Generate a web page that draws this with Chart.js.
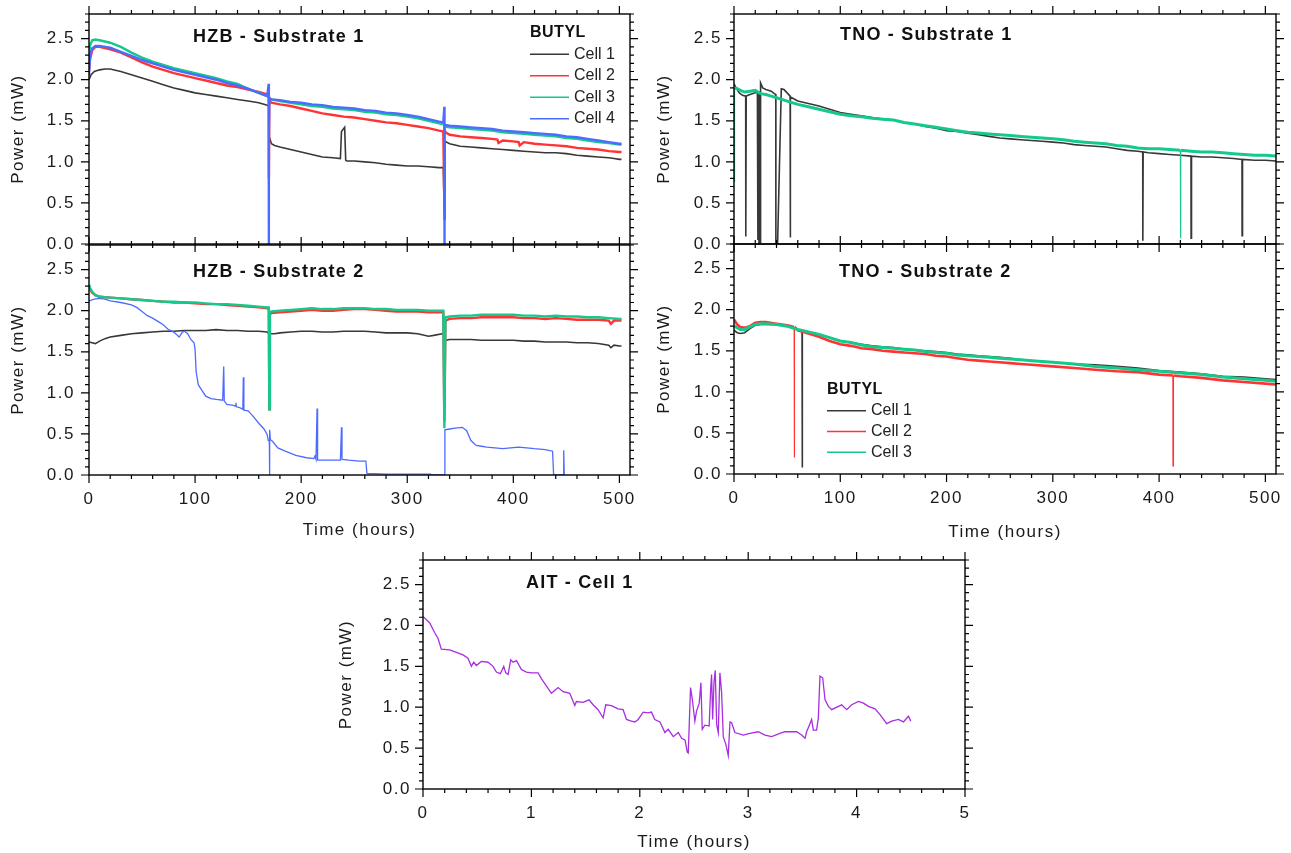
<!DOCTYPE html>
<html>
<head>
<meta charset="utf-8">
<script src="https://cdn.jsdelivr.net/npm/chart.js@4.4.1/dist/chart.umd.min.js"></script>
<style>
  body { margin: 0; background: #fff; }
  #fig { position: relative; width: 1291px; height: 853px; background: #fff; }
  #fig canvas { position: absolute; }
</style>
</head>
<body>
<div id="fig">
  <canvas id="hzb1" width="660" height="260" style="left:0;top:0"></canvas>
  <canvas id="hzb2" width="660" height="320" style="left:0;top:230px"></canvas>
  <canvas id="tno1" width="641" height="260" style="left:650px;top:0"></canvas>
  <canvas id="tno2" width="641" height="320" style="left:650px;top:230px"></canvas>
  <canvas id="ait" width="661" height="313" style="left:330px;top:540px"></canvas>
</div>
<script>
// HZB - Substrate 1
const hzb1Cell1Time = [0, 2, 5, 10, 15, 20, 30, 40, 50, 60, 70, 80, 90, 100, 110, 120, 130, 140, 150, 160, 168, 169.5, 170, 172, 175, 180, 190, 200, 210, 220, 230, 237, 238, 241, 242, 243, 250, 260, 270, 280, 290, 300, 310, 320, 330, 334, 335, 335.5, 340, 350, 360, 370, 380, 390, 400, 410, 420, 430, 440, 450, 460, 470, 480, 490, 495, 500, 502];
const hzb1Cell1 = [2.00, 2.06, 2.10, 2.12, 2.13, 2.13, 2.10, 2.06, 2.02, 1.98, 1.94, 1.90, 1.87, 1.84, 1.82, 1.80, 1.78, 1.76, 1.74, 1.72, 1.69, 1.68, 1.30, 1.22, 1.20, 1.18, 1.15, 1.12, 1.09, 1.06, 1.05, 1.04, 1.37, 1.42, 1.02, 1.01, 1.01, 1.00, 0.99, 0.97, 0.96, 0.95, 0.95, 0.94, 0.93, 0.93, 0.30, 1.25, 1.22, 1.19, 1.18, 1.17, 1.16, 1.15, 1.14, 1.13, 1.12, 1.11, 1.11, 1.10, 1.08, 1.07, 1.06, 1.05, 1.04, 1.03, 1.03];
const hzb1Cell2Time = [0, 1, 3, 6, 10, 20, 30, 40, 50, 60, 70, 80, 90, 100, 110, 120, 130, 140, 150, 160, 168, 169.5, 169.6, 170, 172, 180, 190, 200, 210, 220, 230, 240, 250, 260, 270, 280, 290, 300, 310, 320, 330, 334, 335, 335.1, 336, 340, 350, 360, 370, 380, 385, 386, 390, 400, 405, 406, 410, 420, 430, 440, 450, 460, 470, 480, 490, 500, 502];
const hzb1Cell2 = [2.12, 2.25, 2.36, 2.40, 2.40, 2.37, 2.33, 2.27, 2.21, 2.16, 2.12, 2.08, 2.05, 2.02, 1.99, 1.96, 1.93, 1.91, 1.88, 1.85, 1.82, 1.82, 0.80, 1.75, 1.72, 1.70, 1.68, 1.65, 1.62, 1.59, 1.57, 1.55, 1.54, 1.52, 1.50, 1.48, 1.47, 1.45, 1.43, 1.41, 1.38, 1.37, 0.47, 1.40, 1.36, 1.33, 1.31, 1.30, 1.29, 1.28, 1.27, 1.23, 1.26, 1.25, 1.24, 1.20, 1.24, 1.22, 1.21, 1.20, 1.19, 1.17, 1.16, 1.15, 1.13, 1.12, 1.12];
const hzb1Cell3Time = [0, 1, 3, 6, 10, 20, 30, 40, 50, 60, 70, 80, 90, 100, 110, 120, 130, 140, 150, 160, 168, 170, 172, 180, 190, 200, 210, 220, 230, 240, 250, 260, 270, 280, 290, 300, 310, 320, 330, 334, 336, 340, 350, 360, 370, 380, 390, 400, 410, 420, 430, 440, 450, 460, 470, 480, 490, 500, 502];
const hzb1Cell3 = [2.30, 2.42, 2.48, 2.49, 2.48, 2.45, 2.40, 2.33, 2.27, 2.22, 2.18, 2.14, 2.11, 2.08, 2.05, 2.02, 1.98, 1.95, 1.89, 1.84, 1.80, 1.78, 1.76, 1.74, 1.72, 1.70, 1.68, 1.67, 1.65, 1.64, 1.63, 1.61, 1.60, 1.58, 1.57, 1.55, 1.53, 1.50, 1.47, 1.46, 1.43, 1.42, 1.41, 1.40, 1.39, 1.38, 1.36, 1.35, 1.34, 1.33, 1.32, 1.31, 1.29, 1.28, 1.26, 1.24, 1.23, 1.21, 1.21];
const hzb1Cell4Time = [0, 1, 3, 6, 10, 20, 30, 40, 50, 60, 70, 80, 90, 100, 110, 120, 130, 140, 150, 160, 168, 169.4, 169.5, 169.6, 170, 172, 180, 190, 200, 210, 220, 230, 240, 250, 260, 270, 280, 290, 300, 310, 320, 330, 334, 335, 335.1, 335.2, 336, 340, 350, 360, 370, 380, 390, 400, 410, 420, 430, 440, 450, 460, 470, 480, 490, 500, 502];
const hzb1Cell4 = [2.05, 2.30, 2.38, 2.41, 2.41, 2.39, 2.34, 2.29, 2.24, 2.20, 2.16, 2.12, 2.09, 2.06, 2.03, 2.00, 1.96, 1.93, 1.89, 1.84, 1.80, 1.95, 0.00, 1.30, 1.77, 1.76, 1.75, 1.73, 1.72, 1.70, 1.69, 1.67, 1.66, 1.65, 1.63, 1.62, 1.60, 1.59, 1.57, 1.55, 1.52, 1.49, 1.48, 1.67, 0.00, 1.46, 1.45, 1.44, 1.43, 1.42, 1.41, 1.40, 1.38, 1.37, 1.36, 1.35, 1.34, 1.33, 1.31, 1.30, 1.28, 1.26, 1.24, 1.22, 1.22];

// HZB - Substrate 2
const hzb2Cell1Time = [0, 3, 6, 10, 15, 20, 30, 40, 50, 60, 70, 80, 90, 100, 110, 120, 130, 140, 150, 160, 168, 170, 175, 180, 190, 200, 210, 220, 230, 240, 250, 260, 270, 280, 290, 300, 310, 320, 325, 333, 335, 336, 340, 350, 360, 370, 380, 390, 400, 410, 420, 430, 440, 450, 460, 470, 480, 490, 492, 495, 500, 502];
const hzb2Cell1 = [1.62, 1.61, 1.60, 1.63, 1.66, 1.68, 1.70, 1.72, 1.73, 1.74, 1.75, 1.75, 1.76, 1.76, 1.76, 1.77, 1.76, 1.76, 1.75, 1.75, 1.74, 1.72, 1.72, 1.73, 1.74, 1.75, 1.75, 1.74, 1.74, 1.75, 1.75, 1.75, 1.74, 1.73, 1.73, 1.73, 1.72, 1.69, 1.70, 1.72, 1.72, 1.64, 1.65, 1.65, 1.65, 1.64, 1.64, 1.64, 1.64, 1.63, 1.63, 1.62, 1.62, 1.62, 1.61, 1.61, 1.60, 1.58, 1.55, 1.58, 1.57, 1.57];
const hzb2Cell2Time = [0, 1, 3, 6, 10, 20, 30, 40, 50, 60, 70, 80, 90, 100, 110, 120, 130, 140, 150, 160, 168, 169.5, 170, 170.5, 172, 180, 190, 200, 210, 220, 230, 240, 250, 260, 270, 280, 290, 300, 310, 320, 330, 334, 335, 336, 340, 350, 360, 370, 380, 390, 400, 410, 420, 430, 440, 450, 460, 470, 480, 490, 492, 495, 500, 502];
const hzb2Cell2 = [2.30, 2.26, 2.22, 2.19, 2.17, 2.16, 2.15, 2.14, 2.13, 2.12, 2.11, 2.10, 2.10, 2.09, 2.08, 2.08, 2.07, 2.06, 2.05, 2.04, 2.03, 2.03, 0.80, 1.96, 1.97, 1.98, 1.99, 2.00, 2.01, 2.00, 2.00, 2.01, 2.02, 2.02, 2.01, 2.00, 1.99, 1.99, 1.99, 1.98, 1.98, 1.98, 0.65, 1.88, 1.90, 1.91, 1.91, 1.92, 1.92, 1.92, 1.92, 1.91, 1.91, 1.90, 1.91, 1.90, 1.89, 1.89, 1.89, 1.88, 1.84, 1.88, 1.88, 1.88];
const hzb2Cell3Time = [0, 1, 3, 6, 10, 20, 30, 40, 50, 60, 70, 80, 90, 100, 110, 120, 130, 140, 150, 160, 168, 169.5, 170, 170.5, 172, 180, 190, 200, 210, 220, 230, 240, 250, 260, 270, 280, 290, 300, 310, 320, 330, 334, 335, 336, 340, 350, 360, 370, 380, 390, 400, 410, 420, 430, 440, 450, 460, 470, 480, 490, 500, 502];
const hzb2Cell3 = [2.32, 2.28, 2.23, 2.19, 2.17, 2.16, 2.15, 2.14, 2.13, 2.12, 2.11, 2.11, 2.10, 2.10, 2.09, 2.08, 2.08, 2.07, 2.06, 2.05, 2.04, 2.04, 0.80, 1.98, 1.99, 2.00, 2.01, 2.02, 2.03, 2.02, 2.02, 2.03, 2.03, 2.03, 2.02, 2.02, 2.01, 2.01, 2.01, 2.00, 2.00, 2.00, 0.57, 1.92, 1.93, 1.94, 1.94, 1.95, 1.95, 1.95, 1.95, 1.94, 1.94, 1.93, 1.94, 1.93, 1.93, 1.92, 1.92, 1.91, 1.90, 1.90];
const hzb2Cell4Time = [0, 5, 10, 15, 20, 30, 40, 45, 50, 55, 60, 65, 70, 75, 80, 85, 88, 90, 93, 96, 99, 100, 101, 103, 106, 110, 115, 120, 126, 127, 127.5, 130, 135, 138, 138.5, 139, 142, 145, 145.5, 146, 150, 155, 160, 165, 168, 169, 170, 170.1, 170.5, 171, 173, 178, 185, 195, 205, 212, 213, 214, 215, 215.5, 220, 230, 237, 238, 238.5, 245, 255, 261, 262, 280, 300, 322, 323, 335, 335.5, 340, 345, 352, 356, 358, 360, 365, 370, 375, 390, 405, 420, 430, 437, 438, 447, 447.5, 448];
const hzb2Cell4 = [2.12, 2.14, 2.15, 2.14, 2.12, 2.10, 2.07, 2.04, 1.99, 1.94, 1.91, 1.87, 1.83, 1.77, 1.74, 1.68, 1.74, 1.75, 1.72, 1.65, 1.61, 1.53, 1.26, 1.10, 1.04, 0.96, 0.93, 0.92, 0.91, 1.32, 0.90, 0.86, 0.85, 0.84, 0.88, 0.83, 0.82, 0.80, 1.19, 0.79, 0.78, 0.71, 0.63, 0.56, 0.49, 0.42, 0.42, 0.00, 0.55, 0.43, 0.41, 0.33, 0.29, 0.24, 0.21, 0.20, 0.23, 0.19, 0.81, 0.18, 0.18, 0.18, 0.18, 0.58, 0.19, 0.18, 0.17, 0.17, 0.02, 0.01, 0.01, 0.01, 0.00, 0.00, 0.55, 0.56, 0.57, 0.58, 0.54, 0.48, 0.42, 0.36, 0.35, 0.34, 0.32, 0.34, 0.32, 0.31, 0.29, 0.00, 0.00, 0.30, 0.00];

// TNO - Substrate 1
const tno1Cell1Time = [0, 2, 5, 8, 11, 11.1, 11.5, 15, 20, 22, 22.5, 23, 23.5, 24, 24.5, 25, 27, 30, 35, 38, 39.3, 39.4, 41, 44.5, 47, 50, 52.8, 52.9, 53.2, 60, 70, 80, 90, 100, 110, 120, 130, 140, 150, 160, 170, 180, 190, 200, 210, 220, 230, 240, 250, 260, 270, 280, 290, 300, 310, 320, 330, 340, 350, 360, 370, 380, 384.6, 384.7, 385, 390, 400, 410, 420, 430, 430.1, 430.5, 440, 450, 460, 470, 478, 478.1, 478.5, 490, 500, 510];
const tno1Cell1 = [1.95, 1.90, 1.84, 1.81, 1.80, 0.09, 1.80, 1.82, 1.84, 1.85, 0.05, 1.86, 0.00, 1.85, 0.02, 1.96, 1.90, 1.88, 1.86, 1.83, 1.82, 0.00, 0.00, 1.89, 1.88, 1.84, 1.80, 0.08, 1.79, 1.74, 1.71, 1.68, 1.64, 1.60, 1.58, 1.56, 1.54, 1.52, 1.51, 1.48, 1.46, 1.43, 1.41, 1.38, 1.37, 1.35, 1.33, 1.31, 1.29, 1.28, 1.27, 1.26, 1.25, 1.24, 1.23, 1.21, 1.20, 1.19, 1.18, 1.16, 1.14, 1.13, 1.12, 0.04, 1.12, 1.11, 1.10, 1.09, 1.08, 1.07, 0.07, 1.07, 1.06, 1.06, 1.05, 1.04, 1.03, 0.10, 1.03, 1.02, 1.02, 1.01];
const tno1Cell3Time = [0, 0.5, 3, 6, 10, 15, 20, 25, 30, 35, 40, 45, 50, 60, 70, 80, 90, 100, 110, 120, 130, 140, 150, 160, 170, 180, 190, 200, 210, 220, 230, 240, 250, 260, 270, 280, 290, 300, 310, 320, 330, 340, 350, 360, 370, 380, 390, 400, 410, 420, 420.1, 420.5, 430, 440, 450, 460, 470, 480, 490, 500, 510];
const tno1Cell3 = [0.76, 1.90, 1.89, 1.87, 1.85, 1.86, 1.87, 1.83, 1.82, 1.80, 1.78, 1.76, 1.74, 1.70, 1.67, 1.64, 1.61, 1.58, 1.56, 1.55, 1.53, 1.52, 1.51, 1.48, 1.46, 1.44, 1.42, 1.40, 1.38, 1.36, 1.35, 1.34, 1.33, 1.32, 1.31, 1.30, 1.29, 1.28, 1.27, 1.25, 1.24, 1.23, 1.22, 1.20, 1.19, 1.17, 1.16, 1.16, 1.15, 1.14, 0.07, 1.14, 1.13, 1.12, 1.12, 1.11, 1.10, 1.09, 1.08, 1.08, 1.07];

// TNO - Substrate 2
const tno2Cell1Time = [0, 3, 6, 10, 15, 20, 25, 30, 35, 40, 45, 50, 55, 60, 64, 64.1, 64.5, 70, 80, 90, 100, 110, 120, 130, 140, 150, 160, 170, 180, 190, 200, 210, 220, 230, 240, 250, 260, 270, 280, 290, 300, 320, 340, 350, 360, 380, 400, 420, 440, 460, 480, 500, 510];
const tno2Cell1 = [1.75, 1.72, 1.71, 1.72, 1.77, 1.81, 1.82, 1.82, 1.82, 1.82, 1.81, 1.80, 1.78, 1.76, 1.75, 0.08, 1.75, 1.73, 1.70, 1.66, 1.62, 1.60, 1.58, 1.56, 1.55, 1.54, 1.52, 1.51, 1.50, 1.49, 1.48, 1.46, 1.45, 1.44, 1.43, 1.42, 1.41, 1.39, 1.38, 1.37, 1.36, 1.34, 1.33, 1.32, 1.31, 1.29, 1.26, 1.24, 1.22, 1.19, 1.18, 1.16, 1.15];
const tno2Cell2Time = [0, 3, 6, 10, 15, 20, 25, 30, 40, 50, 56.6, 56.7, 57, 60, 70, 80, 90, 100, 110, 120, 130, 140, 150, 160, 170, 180, 190, 200, 210, 220, 230, 240, 250, 260, 270, 280, 300, 320, 340, 360, 380, 400, 413, 413.1, 413.5, 420, 440, 460, 480, 500, 510];
const tno2Cell2 = [1.88, 1.82, 1.79, 1.78, 1.80, 1.84, 1.85, 1.85, 1.83, 1.81, 1.79, 0.20, 1.79, 1.75, 1.71, 1.67, 1.62, 1.58, 1.56, 1.53, 1.52, 1.50, 1.49, 1.48, 1.47, 1.46, 1.44, 1.43, 1.41, 1.39, 1.38, 1.37, 1.36, 1.35, 1.34, 1.33, 1.31, 1.29, 1.27, 1.25, 1.24, 1.21, 1.20, 0.10, 1.20, 1.19, 1.17, 1.14, 1.12, 1.10, 1.09];
const tno2Cell3Time = [0, 3, 6, 10, 15, 20, 25, 30, 40, 50, 60, 70, 80, 90, 100, 110, 120, 130, 140, 150, 160, 170, 180, 190, 200, 210, 220, 230, 240, 250, 260, 270, 280, 300, 320, 340, 360, 380, 400, 420, 440, 460, 480, 500, 510];
const tno2Cell3 = [1.80, 1.78, 1.76, 1.76, 1.79, 1.82, 1.83, 1.83, 1.82, 1.80, 1.76, 1.73, 1.70, 1.66, 1.62, 1.60, 1.57, 1.55, 1.54, 1.53, 1.52, 1.51, 1.49, 1.48, 1.47, 1.45, 1.44, 1.43, 1.42, 1.41, 1.40, 1.39, 1.38, 1.36, 1.34, 1.31, 1.29, 1.27, 1.25, 1.23, 1.21, 1.18, 1.16, 1.14, 1.13];

// AIT - Cell 1
const aitTime = [0, 0.062, 0.108, 0.139, 0.169, 0.246, 0.308, 0.369, 0.415, 0.446, 0.468, 0.492, 0.538, 0.600, 0.646, 0.677, 0.714, 0.745, 0.763, 0.785, 0.809, 0.831, 0.862, 0.908, 0.954, 1.0, 1.062, 1.092, 1.138, 1.185, 1.246, 1.292, 1.354, 1.4, 1.415, 1.477, 1.532, 1.569, 1.615, 1.662, 1.686, 1.738, 1.8, 1.846, 1.877, 1.923, 1.954, 1.985, 2.031, 2.077, 2.108, 2.138, 2.186, 2.232, 2.262, 2.309, 2.355, 2.386, 2.417, 2.438, 2.447, 2.462, 2.468, 2.484, 2.508, 2.523, 2.548, 2.564, 2.576, 2.6, 2.64, 2.653, 2.662, 2.672, 2.684, 2.696, 2.709, 2.724, 2.739, 2.755, 2.77, 2.795, 2.816, 2.832, 2.847, 2.877, 2.955, 3.016, 3.093, 3.155, 3.216, 3.293, 3.339, 3.447, 3.493, 3.524, 3.539, 3.564, 3.585, 3.601, 3.631, 3.647, 3.662, 3.687, 3.709, 3.74, 3.77, 3.847, 3.862, 3.909, 3.955, 4.016, 4.063, 4.109, 4.17, 4.216, 4.278, 4.324, 4.386, 4.432, 4.478, 4.5];
const aitPower = [2.11, 2.03, 1.91, 1.84, 1.71, 1.70, 1.67, 1.64, 1.60, 1.50, 1.55, 1.51, 1.56, 1.55, 1.50, 1.43, 1.41, 1.50, 1.42, 1.40, 1.58, 1.55, 1.57, 1.46, 1.43, 1.42, 1.42, 1.35, 1.26, 1.17, 1.24, 1.19, 1.17, 1.02, 1.07, 1.06, 1.09, 1.03, 0.97, 0.87, 1.03, 1.02, 0.98, 0.97, 0.85, 0.83, 0.82, 0.85, 0.94, 0.93, 0.94, 0.85, 0.82, 0.69, 0.73, 0.64, 0.69, 0.62, 0.60, 0.45, 0.44, 1.01, 1.24, 1.10, 0.83, 0.95, 1.05, 1.30, 0.73, 0.78, 0.77, 1.20, 1.40, 0.85, 1.30, 1.45, 0.79, 0.69, 1.42, 1.17, 0.64, 0.54, 0.41, 0.82, 0.81, 0.69, 0.66, 0.68, 0.70, 0.66, 0.64, 0.68, 0.70, 0.70, 0.66, 0.62, 0.70, 0.78, 0.85, 0.72, 0.72, 0.87, 1.38, 1.36, 1.09, 1.01, 0.97, 1.02, 1.03, 0.97, 1.03, 1.07, 1.05, 1.01, 0.98, 0.91, 0.80, 0.83, 0.85, 0.82, 0.89, 0.83];

// tick labels
const powerTicks = [0, 0.5, 1.0, 1.5, 2.0, 2.5];
const hourTicks = [0, 100, 200, 300, 400, 500];
const aitHourTicks = [0, 1, 2, 3, 4, 5];

const FONT = "'Liberation Sans', Arial, sans-serif";
const BLACK = '#383838', RED = '#ff3333', GREEN = '#14c98a', BLUE = '#4d6bff', PURPLE = '#a82ee0';

// order: lower number is painted on top
// thinBelow: segments that dip under this value (dropouts) are drawn hairline
function series(label, t, v, color, w, order, thinBelow) {
  const ds = {
    label: label,
    data: t.map((x, i) => ({ x: x, y: v[i] })),
    borderColor: color,
    borderWidth: w,
    order: order,
    pointRadius: 0,
    fill: false
  };
  if (thinBelow) {
    ds.segment = {
      borderWidth: c => (c.p0.parsed.y < thinBelow || c.p1.parsed.y < thinBelow) ? 1.2 : w
    };
  }
  return ds;
}

// frame, minor/major ticks on all four sides, panel title and legend
const framePlugin = {
  id: 'frame',
  beforeDraw(chart) {
    chart.ctx.letterSpacing = '1.5px';
  },
  afterDraw(chart, args, opts) {
    const ctx = chart.ctx;
    const a = chart.chartArea;
    const xs = chart.scales.x, ys = chart.scales.y;
    ctx.save();
    ctx.strokeStyle = '#000';
    ctx.lineWidth = 1.4;
    ctx.strokeRect(a.left, a.top, a.right - a.left, a.bottom - a.top);

    ctx.lineWidth = 1.2;
    ctx.beginPath();
    const nx = Math.floor(xs.max / opts.xMinor + 1e-6);
    for (let i = 0; i <= nx; i++) {
      const px = xs.getPixelForValue(i * opts.xMinor);
      const len = i % opts.xEvery === 0 ? 8 : 4;
      ctx.moveTo(px, a.bottom); ctx.lineTo(px, a.bottom + len);
      ctx.moveTo(px, a.top); ctx.lineTo(px, a.top - len);
    }
    const ny = Math.floor(ys.max / 0.1 + 1e-6);
    for (let i = 0; i <= ny; i++) {
      const py = ys.getPixelForValue(i * 0.1);
      const len = i % 5 === 0 ? 8 : 4;
      ctx.moveTo(a.left, py); ctx.lineTo(a.left - len, py);
      ctx.moveTo(a.right, py); ctx.lineTo(a.right + len, py);
    }
    ctx.stroke();

    ctx.fillStyle = '#111';
    ctx.textAlign = 'left';
    ctx.textBaseline = 'middle';
    ctx.letterSpacing = '1.2px';
    ctx.font = 'bold 18px ' + FONT;
    ctx.fillText(opts.title, a.left + opts.titleX, a.top + opts.titleY);

    if (opts.legend) {
      const lg = opts.legend;
      ctx.letterSpacing = '0.5px';
      ctx.font = 'bold 16px ' + FONT;
      ctx.fillText('BUTYL', a.left + lg.x, a.top + lg.y);
      ctx.letterSpacing = '0px';
      ctx.font = '16px ' + FONT;
      chart.data.datasets.forEach((ds, i) => {
        const yy = a.top + lg.y + lg.first + i * lg.gap;
        ctx.strokeStyle = ds.borderColor;
        ctx.lineWidth = 1.5;
        ctx.beginPath();
        ctx.moveTo(a.left + lg.x, yy);
        ctx.lineTo(a.left + lg.x + 39, yy);
        ctx.stroke();
        ctx.fillStyle = '#222';
        ctx.fillText(ds.label, a.left + lg.x + 44, yy);
      });
    }
    ctx.restore();
  }
};

function panel(id, datasets, o) {
  const tickFont = { family: FONT, size: 17 };
  return new Chart(document.getElementById(id), {
    type: 'line',
    data: { datasets: datasets },
    options: {
      responsive: false,
      animation: false,
      layout: { padding: { top: o.padTop, right: o.padRight, left: 0, bottom: 0 } },
      elements: { line: { tension: 0 } },
      plugins: {
        legend: { display: false },
        tooltip: { enabled: false },
        frame: o.frame
      },
      scales: {
        x: {
          type: 'linear',
          min: 0,
          max: o.xMax,
          grid: { display: false, drawTicks: false },
          border: { display: false },
          ticks: { display: o.xLabels, padding: 14, font: tickFont, color: '#1a1a1a', autoSkip: false, maxRotation: 0, callback: v => String(v) },
          title: { display: o.xLabels, text: 'Time (hours)', font: tickFont, color: '#1a1a1a', padding: { top: 0, bottom: o.xTitlePad } },
          afterBuildTicks: s => { s.ticks = o.xTicks.map(v => ({ value: v })); },
          afterFit: s => { s.height = o.xHeight; s.paddingLeft = 0; s.paddingRight = 0; }
        },
        y: {
          min: 0,
          max: 2.8,
          grid: { display: false, drawTicks: false },
          border: { display: false },
          ticks: { padding: o.yPad, font: tickFont, color: '#1a1a1a', autoSkip: false, callback: v => v.toFixed(1) },
          title: { display: true, text: 'Power (mW)', font: tickFont, color: '#1a1a1a', padding: { top: o.yTitlePad, bottom: 0 } },
          afterBuildTicks: s => { s.ticks = powerTicks.map(v => ({ value: v })); },
          afterFit: s => { s.width = o.yWidth; s.paddingTop = 0; s.paddingBottom = 0; }
        }
      }
    },
    plugins: [framePlugin]
  });
}

panel('hzb1', [
  series('Cell 1', hzb1Cell1Time, hzb1Cell1, BLACK, 1.6, 4),
  series('Cell 2', hzb1Cell2Time, hzb1Cell2, RED, 2.4, 3),
  series('Cell 3', hzb1Cell3Time, hzb1Cell3, GREEN, 2.4, 2),
  series('Cell 4', hzb1Cell4Time, hzb1Cell4, BLUE, 2.4, 1)
], {
  padTop: 14, padRight: 30, yWidth: 89, xHeight: 16, xMax: 510, xTicks: hourTicks, xLabels: false,
  xTitlePad: 0, yPad: 14, yTitlePad: 8,
  frame: { xMinor: 20, xEvery: 5, title: 'HZB - Substrate 1', titleX: 104, titleY: 23,
    legend: { x: 441, y: 19, first: 21.3, gap: 21.5 } }
});

panel('hzb2', [
  series('Cell 1', hzb2Cell1Time, hzb2Cell1, BLACK, 1.6, 4),
  series('Cell 2', hzb2Cell2Time, hzb2Cell2, RED, 2.4, 2),
  series('Cell 3', hzb2Cell3Time, hzb2Cell3, GREEN, 2.4, 1),
  series('Cell 4', hzb2Cell4Time, hzb2Cell4, BLUE, 1.3, 3)
], {
  padTop: 15, padRight: 30, yWidth: 89, xHeight: 75, xMax: 510, xTicks: hourTicks, xLabels: true,
  xTitlePad: 9, yPad: 14, yTitlePad: 8,
  frame: { xMinor: 20, xEvery: 5, title: 'HZB - Substrate 2', titleX: 104, titleY: 27 }
});

panel('tno1', [
  series('Cell 1', tno1Cell1Time, tno1Cell1, BLACK, 1.6, 2),
  series('Cell 3', tno1Cell3Time, tno1Cell3, GREEN, 3, 1, 0.9)
], {
  padTop: 14, padRight: 15, yWidth: 84, xHeight: 16, xMax: 510, xTicks: hourTicks, xLabels: false,
  xTitlePad: 0, yPad: 12, yTitlePad: 4,
  frame: { xMinor: 20, xEvery: 5, title: 'TNO - Substrate 1', titleX: 106, titleY: 21 }
});

panel('tno2', [
  series('Cell 1', tno2Cell1Time, tno2Cell1, BLACK, 1.6, 3),
  series('Cell 2', tno2Cell2Time, tno2Cell2, RED, 2.6, 2, 0.9),
  series('Cell 3', tno2Cell3Time, tno2Cell3, GREEN, 3, 1)
], {
  padTop: 14, padRight: 15, yWidth: 84, xHeight: 76, xMax: 510, xTicks: hourTicks, xLabels: true,
  xTitlePad: 7, yPad: 12, yTitlePad: 4,
  frame: { xMinor: 20, xEvery: 5, title: 'TNO - Substrate 2', titleX: 105, titleY: 28,
    legend: { x: 93, y: 146, first: 20.7, gap: 20.8 } }
});

panel('ait', [
  series('Cell 1', aitTime, aitPower, PURPLE, 1.3, 1)
], {
  padTop: 20, padRight: 26, yWidth: 93, xHeight: 64, xMax: 5, xTicks: aitHourTicks, xLabels: true,
  xTitlePad: 0, yPad: 12, yTitlePad: 6,
  frame: { xMinor: 0.2, xEvery: 5, title: 'AIT - Cell 1', titleX: 103, titleY: 23 }
});
</script>
</body>
</html>
